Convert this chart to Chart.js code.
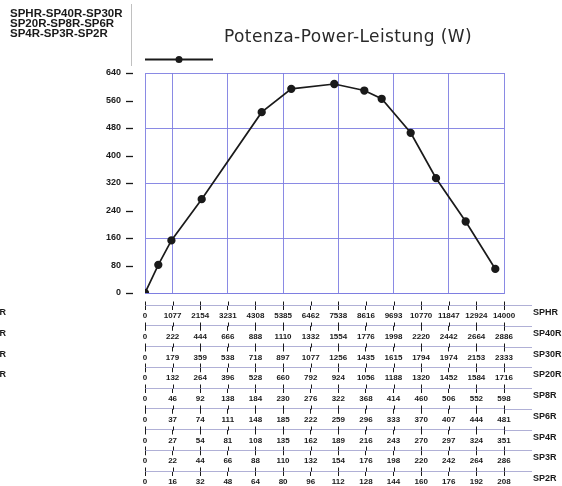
<!DOCTYPE html>
<html>
<head>
<meta charset="utf-8">
<script src="https://cdn.jsdelivr.net/npm/chart.js@4.4.1/dist/chart.umd.min.js"></script>
<style>
  html, body { margin: 0; padding: 0; background: #fff; }
  #wrap { width: 562px; height: 486px; }
</style>
</head>
<body>
<div id="wrap"><canvas id="myChart" width="562" height="486"></canvas></div>
<script>
const TITLE = 'Potenza-Power-Leistung (W)';
const MODEL_LINES = ['SPHR-SP40R-SP30R', 'SP20R-SP8R-SP6R', 'SP4R-SP3R-SP2R'];

// portata (scala SPHR) e potenza
const flow = [0, 519, 1030, 2211, 4551, 5705, 7382, 8552, 9230, 10361, 11348, 12506, 13661];
const power = [0, 82, 153, 273, 526, 594, 608, 589, 565, 466, 334, 208, 70];

const powerTicks = [0, 80, 160, 240, 320, 400, 480, 560, 640];

const rowNames = ['SPHR', 'SP40R', 'SP30R', 'SP20R', 'SP8R', 'SP6R', 'SP4R', 'SP3R', 'SP2R'];
const sphrTicks = [0, 1077, 2154, 3231, 4308, 5385, 6462, 7538, 8616, 9693, 10770, 11847, 12924, 14000];
const sp40Ticks = [0, 222, 444, 666, 888, 1110, 1332, 1554, 1776, 1998, 2220, 2442, 2664, 2886];
const sp30Ticks = [0, 179, 359, 538, 718, 897, 1077, 1256, 1435, 1615, 1794, 1974, 2153, 2333];
const sp20Ticks = [0, 132, 264, 396, 528, 660, 792, 924, 1056, 1188, 1320, 1452, 1584, 1716];
const sp8Ticks = [0, 46, 92, 138, 184, 230, 276, 322, 368, 414, 460, 506, 552, 598];
const sp6Ticks = [0, 37, 74, 111, 148, 185, 222, 259, 296, 333, 370, 407, 444, 481];
const sp4Ticks = [0, 27, 54, 81, 108, 135, 162, 189, 216, 243, 270, 297, 324, 351];
const sp3Ticks = [0, 22, 44, 66, 88, 110, 132, 154, 176, 198, 220, 242, 264, 286];
const sp2Ticks = [0, 16, 32, 48, 64, 80, 96, 112, 128, 144, 160, 176, 192, 208];
const rowTicks = [sphrTicks, sp40Ticks, sp30Ticks, sp20Ticks, sp8Ticks, sp6Ticks, sp4Ticks, sp3Ticks, sp2Ticks];

// le linee verticali della griglia cadono su una tacca SPHR ogni due
const gridFlow = sphrTicks.filter((v, i) => i % 2 === 1);

const GRID = 'rgba(125, 125, 225, 0.9)';
const ROW_LINE = 'rgba(150, 150, 200, 0.75)';
const INK = '#1a1a1a';
const BOLD = "'Liberation Sans', 'DejaVu Sans', sans-serif";

const ctx = document.getElementById('myChart');

const scales = {
    x: {
        type: 'linear',
        position: 'bottom',
        weight: 0,
        min: 0,
        max: 14000,
        afterBuildTicks: s => { s.ticks = gridFlow.map(v => ({ value: v })); },
        afterFit: s => { s.height = 12; },
        ticks: { display: false },
        grid: { color: GRID, drawTicks: false, lineWidth: 1 },
        border: { color: GRID },
    },
    y: {
        min: 0,
        max: 640,
        afterBuildTicks: s => { s.ticks = powerTicks.map(v => ({ value: v })); },
        afterFit: s => { s.width = 145; },
        grid: {
            color: c => (c.tick && c.tick.value % 160 === 0) ? GRID : 'rgba(0,0,0,0)',
            drawTicks: false,
            lineWidth: 1,
        },
        border: { color: GRID },
        ticks: {
            color: INK,
            padding: 24,
            font: { family: BOLD, size: 9, weight: 'bold' },
        },
    },
};

rowNames.forEach((name, i) => {
    const vals = rowTicks[i];
    scales['r' + i] = {
        type: 'linear',
        position: 'bottom',
        weight: i + 1,
        min: 0,
        max: vals[vals.length - 1],
        afterBuildTicks: s => { s.ticks = vals.map(v => ({ value: v })); },
        afterFit: s => { s.height = i < rowNames.length - 1 ? 20.75 : 15; },
        grid: { drawOnChartArea: false, color: INK, tickLength: 5, lineWidth: 1 },
        border: { color: ROW_LINE },
        ticks: {
            color: INK,
            padding: 1,
            autoSkip: false,
            maxRotation: 0,
            font: { family: BOLD, size: 8, weight: 'bold' },
            callback: v => String(v),
        },
    };
});

const decorations = {
    id: 'decorations',
    afterDraw(chart) {
        const c = chart.ctx;
        const area = chart.chartArea;
        c.save();

        // elenco modelli in alto a sinistra
        c.fillStyle = INK;
        c.font = `bold 11.5px ${BOLD}`;
        c.textAlign = 'left';
        c.textBaseline = 'alphabetic';
        MODEL_LINES.forEach((t, i) => c.fillText(t, 10, 16.5 + i * 10.4));

        // linea verticale sottile
        c.strokeStyle = 'rgba(150,150,150,0.6)';
        c.lineWidth = 1;
        c.beginPath();
        c.moveTo(131.5, 4);
        c.lineTo(131.5, 66);
        c.stroke();

        // titolo
        c.fillStyle = '#2a2a2a';
        c.font = `17px 'DejaVu Sans', sans-serif`;
        c.letterSpacing = '0.4px';
        c.textAlign = 'center';
        c.fillText(TITLE, 348, 42);
        c.letterSpacing = '0px';

        // legenda
        c.strokeStyle = INK;
        c.lineWidth = 2;
        c.beginPath();
        c.moveTo(area.left, 59.5);
        c.lineTo(area.left + 68, 59.5);
        c.stroke();
        c.beginPath();
        c.arc(area.left + 34, 59.5, 3.5, 0, Math.PI * 2);
        c.fillStyle = INK;
        c.fill();

        // trattini dell'asse y
        const y = chart.scales.y;
        c.lineWidth = 1.3;
        powerTicks.forEach(v => {
            const py = Math.round(y.getPixelForValue(v)) + 0.5;
            c.beginPath();
            c.moveTo(126, py);
            c.lineTo(133, py);
            c.stroke();
        });

        // scale secondarie
        rowNames.forEach((name, i) => {
            const s = chart.scales['r' + i];
            const top = Math.round(s.top) + 0.5;
            c.strokeStyle = ROW_LINE;
            c.lineWidth = 1;
            c.beginPath();
            c.moveTo(s.right, top);
            c.lineTo(532, top);
            c.stroke();

            c.strokeStyle = INK;
            s.ticks.forEach(t => {
                const px = Math.round(s.getPixelForValue(t.value)) + 0.5;
                c.beginPath();
                c.moveTo(px, top - 4);
                c.lineTo(px, top);
                c.stroke();
            });

            c.fillStyle = INK;
            c.font = `bold 9px ${BOLD}`;
            c.textBaseline = 'middle';
            c.textAlign = 'left';
            c.fillText(name, 533, top + 7);
            if (i < 4) {
                c.textAlign = 'right';
                c.fillText(name, 6, top + 7);
            }
        });
        c.restore();
    }
};

new Chart(ctx, {
    type: 'line',
    data: {
        datasets: [{
            label: TITLE,
            data: flow.map((f, i) => ({ x: f, y: power[i] })),
            xAxisID: 'x',
            yAxisID: 'y',
            borderColor: INK,
            backgroundColor: INK,
            borderWidth: 1.7,
            pointRadius: 3.3,
            pointBackgroundColor: INK,
            pointBorderColor: INK,
            tension: 0,
            fill: false,
        }]
    },
    options: {
        responsive: false,
        animation: false,
        layout: { padding: { top: 73, right: 58, left: 0, bottom: 0 } },
        plugins: {
            legend: { display: false },
            tooltip: { enabled: false },
            title: { display: false },
        },
        scales,
    },
    plugins: [decorations],
});
</script>
</body>
</html>
